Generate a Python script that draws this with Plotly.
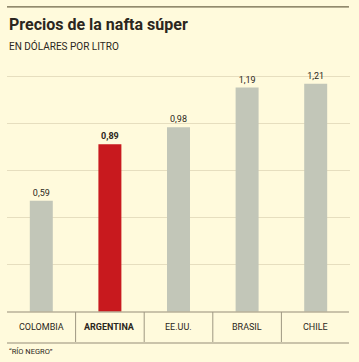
import plotly.graph_objects as go

categories = ["COLOMBIA", "ARGENTINA", "EE.UU.", "BRASIL", "CHILE"]
values = [0.59, 0.89, 0.98, 1.19, 1.21]
highlight = "ARGENTINA"
title = "Precios de la nafta súper"
subtitle = "EN DÓLARES POR LITRO"
source = "“RÍO NEGRO”"

W, H = 359, 362
L, R, T, B = 7, 9, 62, 50
plot_h = H - T - B
ymax = 1.3256

bg = "#FFFADC"
grid = "#E6DEBF"
gray_bar = "#C2C6B8"
red_bar = "#C8191E"
txt = "#2B2620"
rule = "#B8B09A"

colors = [red_bar if c == highlight else gray_bar for c in categories]
labels = [(f"<b>{v:.2f}</b>" if c == highlight else f"{v:.2f}").replace(".", ",")
          for c, v in zip(categories, values)]

fig = go.Figure(go.Bar(
    x=categories, y=values, marker=dict(color=colors, line=dict(width=0)),
    text=labels, textposition="outside", cliponaxis=False,
    textfont=dict(family="Roboto", size=9, color=txt),
    hoverinfo="skip",
))

def py(px_y):
    return (H - B - px_y) / plot_h

shapes = [
    dict(type="rect", xref="paper", yref="paper", x0=0, x1=0.997, y0=py(7.6), y1=py(6.2),
         layer="above", fillcolor="#6E6448", line=dict(width=0)),
    dict(type="line", xref="paper", yref="paper", x0=0, x1=0.997, y0=0, y1=0,
         line=dict(color=rule, width=1.5)),
    dict(type="line", xref="paper", yref="paper", x0=0, x1=0.997, y0=py(343), y1=py(343),
         line=dict(color=rule, width=1.5)),
]
for i in range(len(categories) - 1):
    shapes.append(dict(type="line", xref="x", yref="paper", x0=i + 0.5, x1=i + 0.5,
                       y0=0, y1=py(342), line=dict(color="#9E9782", width=1)))

annotations = [
    dict(text=f"<b>{title}</b>", xref="paper", yref="paper", x=0, y=py(24),
         xanchor="left", yanchor="middle", showarrow=False,
         font=dict(family="Roboto", size=16, color=txt, weight=900)),
    dict(text=subtitle, xref="paper", yref="paper", x=0, y=py(46),
         xanchor="left", yanchor="middle", showarrow=False,
         font=dict(family="Roboto", size=10, color=txt)),
    dict(text=source, xref="paper", yref="paper", x=0, y=py(351),
         xanchor="left", yanchor="middle", showarrow=False,
         font=dict(family="Roboto", size=7.5, color=txt)),
]
for c in categories:
    annotations.append(dict(text=(f"<b>{c}</b>" if c == highlight else c),
                            xref="x", yref="paper", x=c, y=py(327),
                            xanchor="center", yanchor="middle", showarrow=False,
                            font=dict(family="Roboto", size=9, color=txt)))

fig.update_layout(
    width=W, height=H, margin=dict(l=L, r=R, t=T, b=B),
    paper_bgcolor=bg, plot_bgcolor=bg,
    separators=",.",
    bargap=0.665, showlegend=False,
    xaxis=dict(showticklabels=False, showgrid=False, zeroline=False, fixedrange=True),
    yaxis=dict(range=[0, ymax], tick0=0, dtick=0.25, showgrid=True, gridcolor=grid,
               gridwidth=1, showticklabels=False, zeroline=False, fixedrange=True),
    shapes=shapes, annotations=annotations,
)

fig.write_html("out.html", config={"displayModeBar": False},
               post_script="document.body.style.margin='0';document.body.style.background='" + bg + "';")
